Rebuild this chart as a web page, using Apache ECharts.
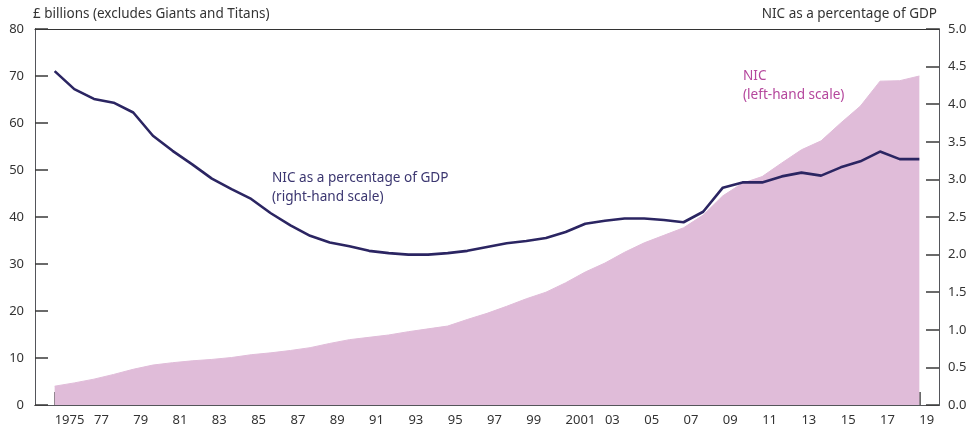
<!DOCTYPE html>
<html>
<head>
<meta charset="utf-8">
<script src="https://cdn.jsdelivr.net/npm/echarts@6/dist/echarts.min.js"></script>
<style>html,body{margin:0;padding:0;background:#fff}#c{width:971px;height:430px}</style>
</head>
<body>
<div id="c"></div>
<script>
var years = [];
for (var y = 1975; y <= 2019; y++) years.push(String(y));

// NIC, £ billions (left-hand scale)
var nicBillions = [4.0, 4.7, 5.5, 6.5, 7.6, 8.5, 9.0, 9.4, 9.7, 10.1,
  10.7, 11.1, 11.6, 12.2, 13.1, 13.9, 14.4, 14.9, 15.6, 16.2,
  16.8, 18.2, 19.5, 21.0, 22.6, 24.0, 26.0, 28.3, 30.2, 32.5,
  34.5, 36.1, 37.7, 40.4, 44.5, 47.2, 48.6, 51.5, 54.3, 56.2,
  60.0, 63.6, 68.9, 69.0, 70.0];

// NIC as a percentage of GDP (right-hand scale)
var nicPctGdp = [4.44, 4.20, 4.07, 4.02, 3.89, 3.58, 3.38, 3.20, 3.01, 2.87,
  2.74, 2.55, 2.39, 2.25, 2.16, 2.11, 2.05, 2.02, 2.00, 2.00,
  2.02, 2.05, 2.10, 2.15, 2.18, 2.22, 2.30, 2.41, 2.45, 2.48,
  2.48, 2.46, 2.43, 2.57, 2.89, 2.96, 2.96, 3.04, 3.09, 3.05,
  3.16, 3.24, 3.37, 3.27, 3.27];

var leftTitle = '£ billions (excludes Giants and Titans)';
var rightTitle = 'NIC as a percentage of GDP';

// axis categories padded by one empty year either side
var cats = ['1974'].concat(years, ['2020']);
var areaData = [null].concat(nicBillions, [null]);
var lineData = [null].concat(nicPctGdp, [null]);

var FONT = '"Noto Sans", sans-serif';
var AX = '#333333';
function shown(i) { return i >= 1 && i <= cats.length - 2 && (i - 1) % 2 === 0; }

var chart = echarts.init(document.getElementById('c'));
chart.setOption({
  animation: false,
  grid: {left: 35, right: 32, top: 29, bottom: 25},
  title: [
    {text: leftTitle, left: 28, top: 2, textStyle: {fontSize: 13.5, fontWeight: 'normal', fontFamily: FONT, color: '#333'}},
    {text: rightTitle, right: 29, top: 2, textStyle: {fontSize: 13.5, fontWeight: 'normal', fontFamily: FONT, color: '#333'}},
    {text: 'NIC as a percentage of GDP\n(right-hand scale)', left: 267, top: 164,
      textStyle: {fontSize: 13.6, lineHeight: 19, fontWeight: 'normal', fontFamily: FONT, color: '#3b3670'}},
    {text: 'NIC\n(left-hand scale)', left: 738, top: 62,
      textStyle: {fontSize: 13.6, lineHeight: 19, fontWeight: 'normal', fontFamily: FONT, color: '#b5479d'}}
  ],
  xAxis: [{
    type: 'category', data: cats, boundaryGap: false, position: 'bottom',
    axisLine: {show: true, lineStyle: {color: AX}},
    axisTick: {show: false},
    axisLabel: {
      interval: shown, align: 'left', margin: 9, color: '#333', fontSize: 13, fontFamily: FONT,
      formatter: function (v) { return (v === '1975' || v === '2001') ? v : v.slice(2); }
    }
  }, {
    type: 'category', data: cats, boundaryGap: false, position: 'top',
    axisLine: {show: true, onZero: false, lineStyle: {color: AX}},
    axisTick: {show: false},
    axisLabel: {show: false}
  }, {
    type: 'category', data: cats, boundaryGap: false, position: 'bottom',
    axisLine: {show: true, onZero: false},
    axisTick: {show: true, inside: true, length: 13, interval: shown, lineStyle: {color: '#3a3a3a', width: 1.5}},
    axisLabel: {show: false}
  }],
  yAxis: [{
    type: 'value', min: 0, max: 80, interval: 10, position: 'left',
    axisLine: {show: true, lineStyle: {color: AX}},
    axisTick: {show: false},
    axisLabel: {color: '#333', fontSize: 13, margin: 11, fontFamily: FONT},
    splitLine: {show: false}
  }, {
    type: 'value', min: 0, max: 5, interval: 0.5, position: 'right',
    axisLine: {show: true, lineStyle: {color: AX}},
    axisTick: {show: false},
    axisLabel: {color: '#333', fontSize: 13, margin: 9, fontFamily: FONT,
      formatter: function (v) { return v.toFixed(1); }},
    splitLine: {show: false}
  }, {
    type: 'value', min: 0, max: 80, interval: 10, position: 'left',
    axisLine: {show: true, onZero: false},
    axisTick: {show: true, inside: true, length: 13, lineStyle: {color: '#3a3a3a', width: 1.5}},
    axisLabel: {show: false},
    splitLine: {show: false}
  }, {
    type: 'value', min: 0, max: 5, interval: 0.5, position: 'right',
    axisLine: {show: true, onZero: false},
    axisTick: {show: true, inside: true, length: 13, lineStyle: {color: '#3a3a3a', width: 1.5}},
    axisLabel: {show: false},
    splitLine: {show: false}
  }],
  series: [{
    name: 'NIC', type: 'line', xAxisIndex: 0, yAxisIndex: 0, data: areaData,
    symbol: 'none', lineStyle: {color: '#e0bcd9', width: 1},
    areaStyle: {color: '#e0bcd9', opacity: 1}
  }, {
    name: 'NIC as a percentage of GDP', type: 'line', xAxisIndex: 0, yAxisIndex: 1, data: lineData,
    symbol: 'none',
    lineStyle: {color: '#2b2562', width: 2.6}
  }]
});
</script>
</body>
</html>
